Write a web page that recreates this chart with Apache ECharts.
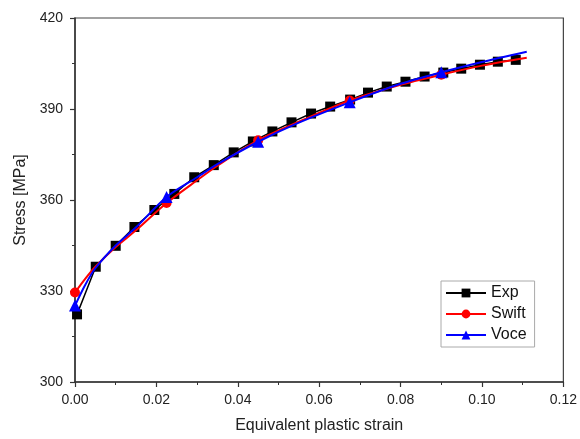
<!DOCTYPE html>
<html>
<head>
<meta charset="utf-8">
<script src="https://cdn.jsdelivr.net/npm/echarts@6/dist/echarts.min.js"></script>
<style>html,body{margin:0;padding:0;background:#fff}#c{width:580px;height:439px}</style>
</head>
<body>
<div id="c"></div>
<script>
// Experimental data (strain, stress MPa)
var expStrain = [0.0005,0.0051,0.0100,0.0146,0.0195,0.0244,0.0293,0.0341,0.0390,0.0437,0.0485,0.0532,0.0580,0.0627,0.0676,0.0720,0.0766,0.0812,0.0859,0.0905,0.0949,0.0995,0.1039,0.1083];
var expStress = [322.3,338.0,344.9,351.1,356.7,362.0,367.5,371.5,375.7,379.3,382.6,385.6,388.5,390.8,393.1,395.4,397.4,399.0,400.7,402.0,403.3,404.6,405.6,406.2];
// Swift fit
var swiftStrain = [0,0.0025,0.005,0.01,0.015,0.0225,0.03,0.035,0.045,0.055,0.0675,0.08,0.09,0.1,0.111];
var swiftStress = [329.5,334.0,338.0,344.5,350.0,359.0,366.5,371.3,379.7,385.8,392.8,398.0,401.3,404.3,406.9];
var swiftMarkIdx = [0,5,8,10,12];
// Voce fit
var voceStrain = [0,0.0025,0.005,0.01,0.015,0.0225,0.03,0.035,0.045,0.055,0.0675,0.08,0.09,0.1,0.111];
var voceStress = [325.2,332.0,337.5,345.0,351.0,361.0,367.5,371.8,379.2,385.5,392.2,398.3,402.1,405.5,408.9];
var voceMarkIdx = [0,5,8,10,12];
// Axis ticks
var xTicks = {min:0, max:0.12, interval:0.02};
var yTicks = {min:300, max:420, interval:30};

function build(xs, ys, marks){
  return xs.map(function(x,i){
    var item = {value:[x, ys[i]]};
    if (marks && marks.indexOf(i) < 0) item.symbol = 'none';
    return item;
  });
}

var chart = echarts.init(document.getElementById('c'), null, {renderer:'canvas'});
var font = "'Liberation Sans', Arial, sans-serif";
var axisCommon = {
  axisLine:{show:true, onZero:false, lineStyle:{color:'#333', width:1.5}},
  axisTick:{show:true, inside:false, length:5, lineStyle:{color:'#333', width:1.2}},
  minorTick:{show:true, splitNumber:2, length:3, lineStyle:{color:'#333', width:1}},
  splitLine:{show:false},
  axisLabel:{color:'#222', fontSize:14, fontFamily:font},
  nameTextStyle:{color:'#222', fontSize:16, fontFamily:font}
};
chart.setOption({
  animation:false,
  backgroundColor:'#fff',
  grid:{left:75, top:18, right:13, bottom:55, show:true, borderColor:'#444', borderWidth:1.2, backgroundColor:'transparent'},
  xAxis:Object.assign({}, axisCommon, {
    type:'value', min:xTicks.min, max:xTicks.max, interval:xTicks.interval,
    name:'Equivalent plastic strain', nameLocation:'middle', nameGap:36,
    axisLabel:Object.assign({}, axisCommon.axisLabel, {margin:11, formatter:function(v){return v.toFixed(2);}})
  }),
  yAxis:Object.assign({}, axisCommon, {
    type:'value', min:yTicks.min, max:yTicks.max, interval:yTicks.interval,
    name:'Stress [MPa]', nameLocation:'middle', nameGap:42,
    axisLabel:Object.assign({}, axisCommon.axisLabel, {margin:12})
  }),
  legend:{
    orient:'vertical', left:441, top:281, itemWidth:40, itemHeight:11, itemGap:5,
    padding:[4,8,4,4], borderColor:'#aaa', borderWidth:1, backgroundColor:'#fff',
    textStyle:{color:'#111', fontSize:16, fontFamily:font},
    data:['Exp','Swift','Voce']
  },
  series:[
    {name:'Exp', type:'line', data:build(expStrain, expStress), symbol:'rect', symbolSize:10,
     showAllSymbol:true, lineStyle:{color:'#000', width:1.5}, itemStyle:{color:'#000'}, z:2},
    {name:'Swift', type:'line', smooth:0.3, data:build(swiftStrain, swiftStress, swiftMarkIdx), symbol:'circle', symbolSize:10,
     showAllSymbol:true, lineStyle:{color:'#ff0000', width:2}, itemStyle:{color:'#ff0000'}, z:3},
    {name:'Voce', type:'line', smooth:0.3, data:build(voceStrain, voceStress, voceMarkIdx), symbol:'triangle', symbolSize:12,
     showAllSymbol:true, lineStyle:{color:'#0000ff', width:2}, itemStyle:{color:'#0000ff'}, z:4}
  ]
});
</script>
</body>
</html>
